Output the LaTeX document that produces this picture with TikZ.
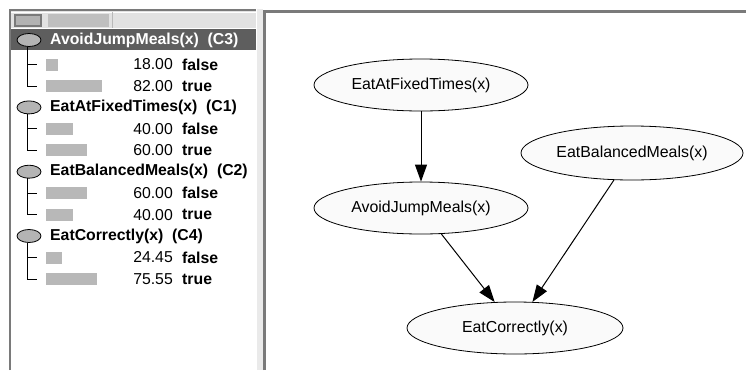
\documentclass[tikz,border=0pt]{standalone}
\usepackage{fontspec}
\setmainfont{Liberation Sans}
\usetikzlibrary{shapes.geometric,arrows.meta}

\definecolor{selrow}{HTML}{5E5E5E}
\definecolor{barfill}{HTML}{B8B8B8}
\definecolor{hdrfill}{HTML}{E2E2E2}
\definecolor{edgegray}{HTML}{7A7A7A}
\definecolor{iconfill}{HTML}{B4B4B4}
\definecolor{nodefill}{HTML}{FAFAFA}
\definecolor{splitfill}{HTML}{EAEAEA}

% One variable of the tree view: icon, title, two states with bars.
% #1 name, #2 title row y, #3 first state row y, #4 label,
% #5 false value, #6 true value, #7 false bar length, #8 true bar length, #9 title colour
\newcommand{\vardisplay}[9]{%
  \node[varicon] (#1-icon) at (29,#2) {};
  \node[vartitle,text=#9] (#1-title) at (50,#2) {#4};
  \draw[tree] (27,#2+6.5) -- (27,#3+21.5) -- (37,#3+21.5);
  \draw[tree] (27,#3) -- (37,#3);
  \fill[barfill] (46,#3-6) rectangle ++(#7,12);
  \fill[barfill] (46,#3+15.5) rectangle ++(#8,12);
  \node[probval] (#1-fval) at (173,#3) {#5};
  \node[statename] (#1-fname) at (182,#3) {false};
  \node[probval] (#1-tval) at (173,#3+21.5) {#6};
  \node[statename] (#1-tname) at (182,#3+21.5) {true};
}

\begin{document}
\begin{tikzpicture}[x=1pt,y=-1pt,
  varnode/.style={ellipse,draw=black,line width=0.8pt,fill=nodefill,
    minimum width=214pt,minimum height=52pt,inner sep=0pt,
    font=\fontsize{15.9}{18}\selectfont},
  link/.style={line width=1pt,-{Triangle[length=17pt,width=12pt]}},
  varicon/.style={ellipse,draw=black,line width=0.8pt,fill=iconfill,
    minimum width=24pt,minimum height=13pt,inner sep=0pt},
  vartitle/.style={anchor=west,inner sep=0pt,font=\fontsize{15.8}{18}\bfseries\selectfont},
  probval/.style={anchor=east,inner sep=0pt,font=\fontsize{15.8}{18}\selectfont},
  statename/.style={anchor=west,inner sep=0pt,font=\fontsize{15.8}{18}\bfseries\selectfont},
  tree/.style={line width=0.8pt,black}
]
\useasboundingbox (0,0) rectangle (746,370);
\fill[white] (0,0) rectangle (746,370);

% ---- left panel: header strip with two buttons ----
\fill[hdrfill] (11,11) rectangle (256,28);
\draw[white,line width=1pt] (11,12.5) -- (256,12.5);
\draw[edgegray,line width=1.2pt,fill=gray!60] (15,15) rectangle (41,26);
\fill[gray!50] (48,14) rectangle (109,27);
\draw[gray!55,line width=0.8pt] (112,12) -- (112,28);

% selected row
\fill[selrow] (11,29) rectangle (256,50);

% panel frames
\draw[edgegray,line width=2.5pt] (10,370) -- (10,10) -- (256,10);
\fill[splitfill] (257,9) rectangle (263,370);
\draw[edgegray,line width=3pt] (264.5,370) -- (264.5,11.5) -- (746,11.5);

% ---- tree view of the variables ----
\vardisplay{avoid}{40}{64.5}{AvoidJumpMeals(x)~~(C3)}{18.00}{82.00}{12}{56}{white}
\vardisplay{fixed}{107.4}{128.7}{EatAtFixedTimes(x)~~(C1)}{40.00}{60.00}{27}{41}{black}
\vardisplay{balanced}{171.7}{193.2}{EatBalancedMeals(x)~~(C2)}{60.00}{40.00}{41}{27}{black}
\vardisplay{correct}{236}{257.5}{EatCorrectly(x)~~(C4)}{24.45}{75.55}{16}{51}{black}

% ---- network graph ----
\node[varnode] (nfixed) at (421,85) {EatAtFixedTimes(x)};
\node[varnode] (navoid) at (421,208) {AvoidJumpMeals(x)};
\node[varnode,minimum width=222pt,minimum height=54pt] (nbalanced) at (632,153) {EatBalancedMeals(x)};
\node[varnode,minimum width=216pt] (ncorrect) at (515,328) {EatCorrectly(x)};

\draw[link] (nfixed) -- (navoid);
\draw[link] (navoid) -- (ncorrect);
\draw[link] (nbalanced) -- (ncorrect);
\end{tikzpicture}
\end{document}
